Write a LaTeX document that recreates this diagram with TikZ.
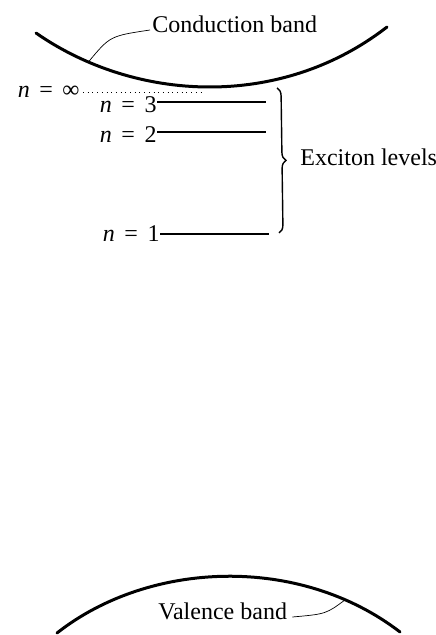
\documentclass[tikz,border=0pt]{standalone}
\usepackage{fontspec}
\setmainfont{Liberation Serif}
\usetikzlibrary{decorations.pathreplacing}

\newcommand{\nlev}[1]{\textit{n}\hspace{0.4em}=\hspace{0.4em}#1}

\begin{document}
\begin{tikzpicture}[x=0.5pt,y=-0.5pt,font=\fontsize{12}{14}\selectfont,
  band/.style={line width=1.5pt,line cap=round},
  level/.style={line width=1pt},
  leader/.style={line width=0.35pt},
  lbl/.style={inner sep=0pt}]
  \useasboundingbox (0,0) rectangle (435,635);
  % bands
  \draw[band] (36,33) .. controls (135,102) and (280,110) .. (387,27)
    coordinate[pos=0.165] (cbpt);
  \draw[band] (57,633) .. controls (150,560) and (300,555) .. (400,632)
    coordinate[pos=0.83] (vbpt);
  \node[lbl,anchor=base west] (cblabel) at (152,33) {Conduction band};
  \node[lbl,anchor=base west] (vblabel) at (158,619) {Valence band};
  \draw[leader] (cbpt) .. controls (110,36) .. ([xshift=-1pt,yshift=1.5pt]cblabel.base west);
  \draw[leader] ([xshift=2.5pt,yshift=1pt]vblabel.base east) .. controls (326,614) .. (vbpt);
  % exciton levels
  \coordinate (cbmin) at (202,92);
  \node[lbl,anchor=east] (ninf) at (80,92) {\nlev{∞}};
  \draw[dotted,leader] (ninf.east) ++(3,0) -- (cbmin);
  \node[lbl,anchor=base east] (n3) at (157,113) {\nlev{3}};
  \node[lbl,anchor=base east] (n2) at (157,143) {\nlev{2}};
  \node[lbl,anchor=base east] (n1) at (160,242) {\nlev{1}};
  \coordinate (l3) at (266,102);
  \coordinate (l2) at (266,132);
  \coordinate (l1) at (269,234);
  \draw[level] (l3 -| n3.east) -- (l3);
  \draw[level] (l2 -| n2.east) -- (l2);
  \draw[level] (l1 -| n1.east) -- (l1);
  \coordinate (btop) at (277,88);
  \coordinate (bbot) at (279,233);
  \draw[line width=0.7pt,decorate,decoration={brace,amplitude=4pt}] (btop) -- (bbot);
  \node[lbl,anchor=base west] (exc) at (300,166) {Exciton levels};
\end{tikzpicture}
\end{document}
